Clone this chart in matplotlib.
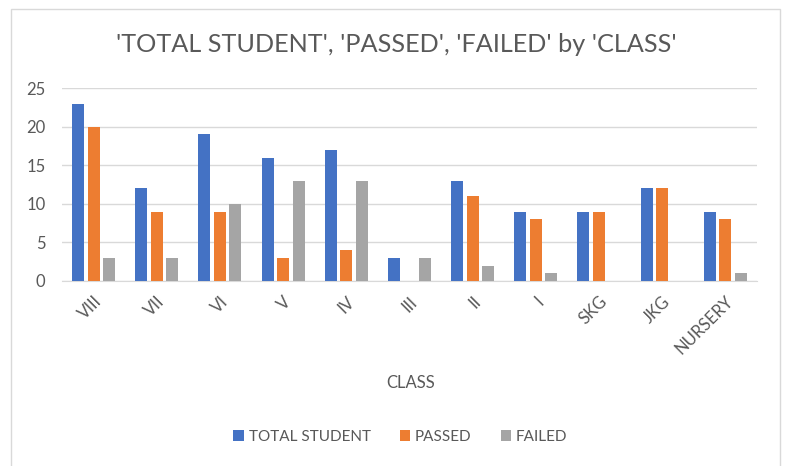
import matplotlib.pyplot as plt
import numpy as np
from matplotlib.patches import Rectangle

classes = ["VIII", "VII", "VI", "V", "IV", "III", "II", "I", "SKG", "JKG", "NURSERY"]
total_student = [23, 12, 19, 16, 17, 3, 13, 9, 9, 12, 9]
passed = [20, 9, 9, 3, 4, 0, 11, 8, 9, 12, 8]
failed = [3, 3, 10, 13, 13, 3, 2, 1, 0, 0, 1]

plt.rcParams["font.family"] = ["Lato", "DejaVu Sans"]
txt_color = "#595959"

fig = plt.figure(figsize=(7.85, 4.66), dpi=100)
ax = fig.add_axes([0.079, 0.397, 0.885, 0.414])

# 外框
fig.patches.append(Rectangle((0.014, -0.1), 0.979, 1.08, transform=fig.transFigure,
                             fill=False, edgecolor="#d9d9d9", linewidth=1))

x = np.arange(len(classes))
w = 0.19
step = 0.245
series = [
    (total_student, "#4472c4", "TOTAL STUDENT"),
    (passed, "#ed7d31", "PASSED"),
    (failed, "#a5a5a5", "FAILED"),
]
for i, (vals, color, label) in enumerate(series):
    ax.bar(x + (i - 1) * step, vals, w, color=color, label=label, zorder=3)

ax.set_xlim(-0.5, len(classes) - 0.5)
ax.set_ylim(0, 25)
ax.set_yticks(range(0, 26, 5))
ax.grid(axis="y", color="#d9d9d9", linewidth=1, zorder=0)
for s in ["top", "right", "left"]:
    ax.spines[s].set_visible(False)
ax.spines["bottom"].set_color("#d9d9d9")
ax.tick_params(axis="both", length=0, colors=txt_color, labelsize=12)
ax.tick_params(axis="y", pad=12)
ax.tick_params(axis="x", pad=9)
ax.set_xticks(x)
ax.set_xticklabels(classes, rotation=45, ha="right", rotation_mode="anchor")

fig.text(0.505, 0.905, "'TOTAL STUDENT', 'PASSED', 'FAILED' by 'CLASS'",
         ha="center", va="center", fontsize=18.2, color=txt_color)
fig.text(0.523, 0.178, "CLASS", ha="center", va="center", fontsize=12, color=txt_color)

fig.legend(loc="center", bbox_to_anchor=(0.51, 0.062), ncol=3,
           frameon=False, fontsize=11, labelcolor=txt_color, handlelength=0.7,
           handleheight=0.7, handletextpad=0.3, columnspacing=1.9)

fig.savefig("out.png", dpi=100)
